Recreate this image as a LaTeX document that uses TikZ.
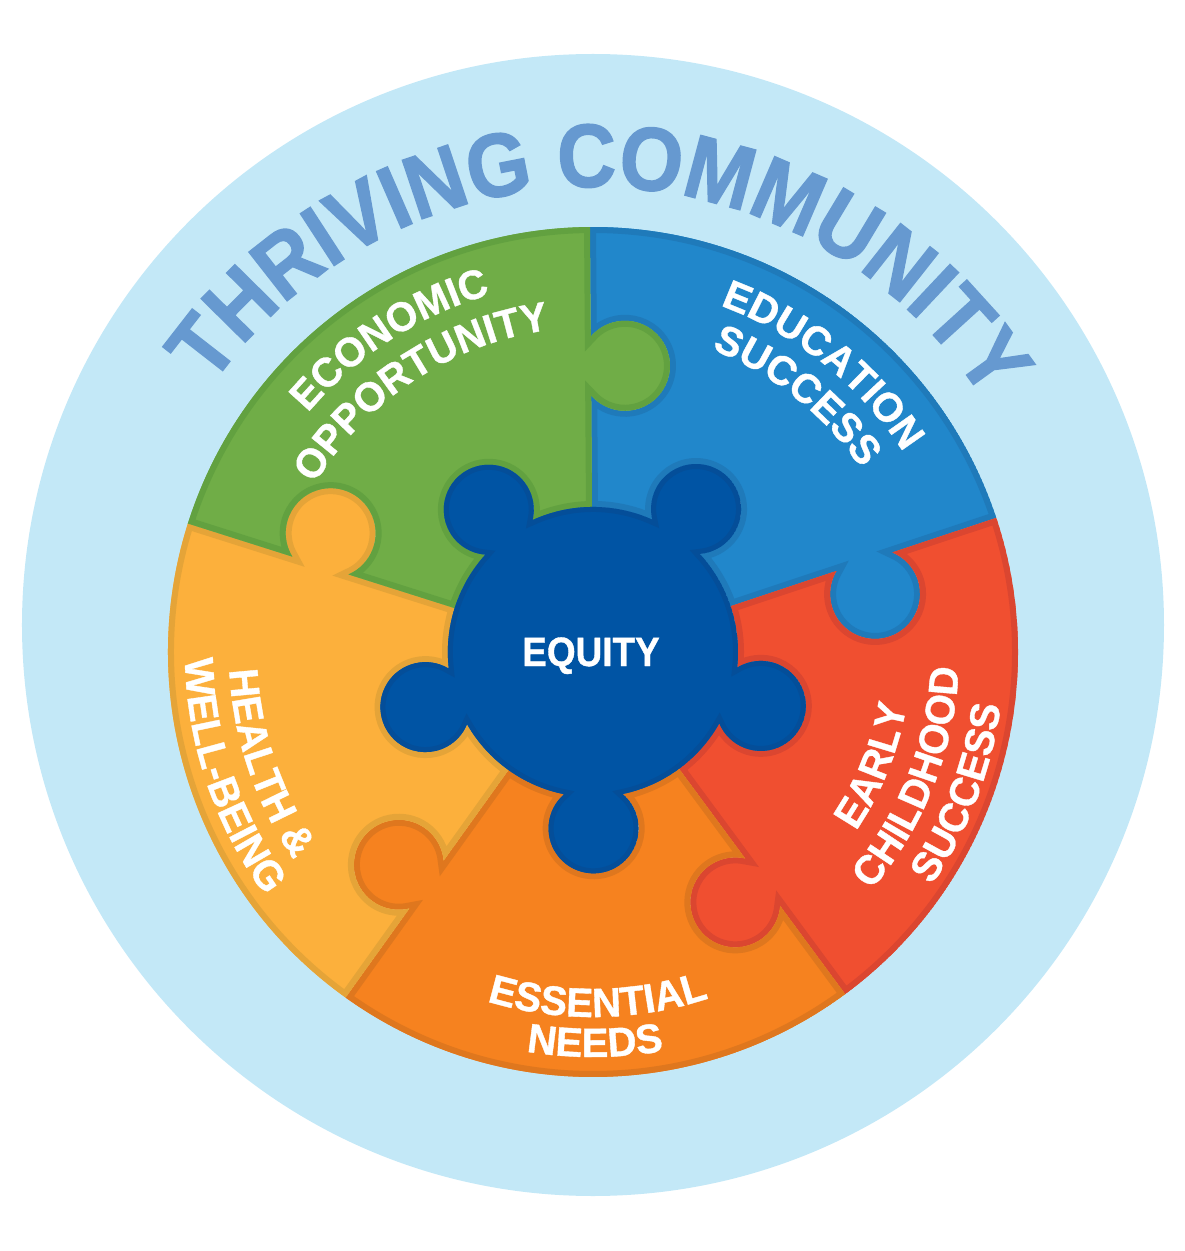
\documentclass[tikz,border=0pt]{standalone}
\usepackage{fontspec}
\setmainfont{Liberation Sans}
\newfontfamily\heavyfont[UprightFont={* Bold},FakeBold=0.9,FakeStretch=0.98]{Liberation Sans}
\newfontfamily\heavycentre[UprightFont={* Bold},FakeBold=0.9,FakeStretch=0.9]{Liberation Sans}
\newfontfamily\heavytitle[UprightFont={* Bold},FakeBold=1.5,FakeStretch=0.905]{Liberation Sans}
\usetikzlibrary{decorations.text}
\definecolor{sky}{HTML}{C3E8F7}
\definecolor{titleblue}{HTML}{6699D0}
\definecolor{hubfill}{HTML}{0054A4}
\definecolor{hubrim}{HTML}{044E99}
\definecolor{pblue}{HTML}{2187CB}
\definecolor{pbluerim}{HTML}{1F7ABA}
\definecolor{pred}{HTML}{F04F30}
\definecolor{predrim}{HTML}{DB4630}
\definecolor{porange}{HTML}{F6821F}
\definecolor{porangerim}{HTML}{DF771E}
\definecolor{pyellow}{HTML}{FCB03C}
\definecolor{pyellowrim}{HTML}{E5A438}
\definecolor{pgreen}{HTML}{70AD47}
\definecolor{pgreenrim}{HTML}{62A140}
\newcommand{\labelfont}{\heavyfont\fontsize{41}{41}\selectfont}
\newcommand{\centrefont}{\heavycentre\fontsize{41}{41}\selectfont}
\newcommand{\titlefont}{\heavytitle\fontsize{90}{90}\selectfont}
% One puzzle piece (blue position); rotated by -72 degrees for the others
\newcommand{\piecepath}{
  (90.4:145) -- (90.4:256.5)
  arc[start angle=221.35,end angle=499.45,radius=45pt]
  -- (90.4:425)
  arc[start angle=90.4,end angle=18.4,radius=425pt]
  -- (18.4:315.5)
  arc[start angle=427.45,end angle=149.35,radius=45pt]
  -- (18.4:145)
  arc[start angle=18.4,end angle=42.6,radius=145pt]
  arc[start angle=274.66,end angle=553.74,radius=45pt]
  arc[start angle=65.8,end angle=90.4,radius=145pt]
  -- cycle}
\newcommand{\hubpath}{
  (42.6:145)
  \foreach \m in {54.2,126.2,198.2,270.2,342.2}{
    arc[start angle=\m+220.46,end angle=\m+499.54,radius=45pt]
    arc[start angle=\m+11.6,end angle=\m+60.4,radius=145pt]
  } -- cycle}
\tikzset{
  curved/.style={decorate,decoration={text along path,
    text={|\color{white}\labelfont|#1},text align={center}}},
}
\newcommand{\cwlabel}[3]{\path[curved={#1}] (#2+45:#3) arc[start angle=#2+45,end angle=#2-45,radius=#3pt];}
\newcommand{\ccwlabel}[3]{\path[curved={#1}] (#2-45:#3) arc[start angle=#2-45,end angle=#2+45,radius=#3pt];}
\begin{document}
\begin{tikzpicture}[x=1pt,y=1pt,line join=miter,miter limit=10]
\useasboundingbox (-593,-599) rectangle (592,652);
\fill[sky] (0,27) circle[radius=571pt];
% title
\path[decorate,decoration={text along path,
  text={|\color{titleblue}\titlefont|THRIVING COMMUNITY},text align={center}}]
  (153.8:465) arc[start angle=153.8,end angle=23.8,radius=465pt];
% pieces
\foreach \k/\c in {0/pblue,1/pred,2/porange,3/pyellow,4/pgreen}{
  \begin{scope}[rotate=-72*\k]
    \begin{scope}
      \clip \piecepath;
      \fill[\c] \piecepath;
      \draw[\c rim,line width=12pt] \piecepath;
    \end{scope}
  \end{scope}
}
% hub
\begin{scope}
  \clip \hubpath;
  \fill[hubfill] \hubpath;
  \draw[hubrim,line width=10pt] \hubpath;
\end{scope}
\node[text=white,font=\centrefont,anchor=base] (equity) at (-2,-14) {EQUITY};
% labels
\cwlabel{ECONOMIC}{123}{372}
\cwlabel{OPPORTUNITY}{123.3}{325}
\cwlabel{EDUCATION}{51.3}{369}
\cwlabel{SUCCESS}{51.5}{325}
\ccwlabel{EARLY}{-22}{318}
\ccwlabel{CHILDHOOD}{-21.5}{366}
\ccwlabel{SUCCESS}{-21}{411}
\ccwlabel{ESSENTIAL}{-89.2}{365}
\ccwlabel{NEEDS}{-89.7}{405}
\ccwlabel{HEALTH {\&}}{198.8}{364}
\ccwlabel{WELL-BEING}{198.8}{408}
\end{tikzpicture}
\end{document}
